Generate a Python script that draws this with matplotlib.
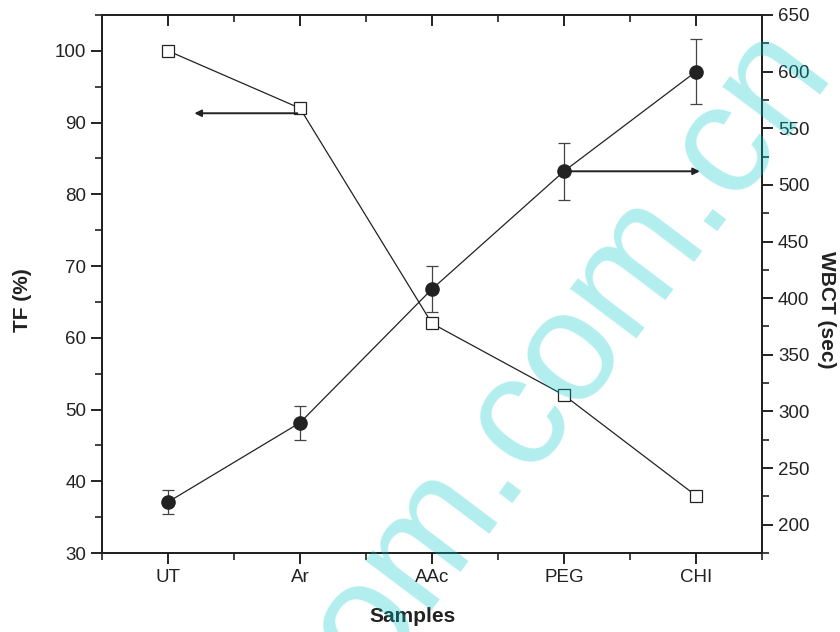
import numpy as np
import matplotlib
matplotlib.use("Agg")
import matplotlib.pyplot as plt
from matplotlib.ticker import MultipleLocator

plt.rcParams['font.family'] = ['Liberation Sans', 'DejaVu Sans']

samples = ['UT', 'Ar', 'AAc', 'PEG', 'CHI']
tf = [100, 92, 62, 52, 38]                # TF (%)
wbct = [220, 290, 408, 512, 600]          # WBCT (sec)
wbct_err = [11, 15, 20, 25, 29]

ink = '#222222'
x = np.arange(len(samples))

fig = plt.figure(figsize=(8.4, 6.32), dpi=100)
ax = fig.add_axes([0.1214, 0.125, 0.7857, 0.8513])
ax2 = ax.twinx()

# TF: open squares on the left axis
ax.plot(x, tf, color=ink, lw=0.9, marker='s', ms=8, mfc='white',
        mec=ink, mew=0.9, zorder=3)

# WBCT: filled circles with error bars on the right axis
ax2.errorbar(x, wbct, yerr=wbct_err, fmt='none', ecolor='#444444',
             elinewidth=0.9, capsize=4.5, capthick=0.9, zorder=2)
ax2.plot(x, wbct, color=ink, lw=0.9, marker='o', ms=9.5, mfc=ink,
         mec=ink, zorder=3)

# arrows pointing to each series' axis
ax.annotate('', xy=(0.2, 91.3), xytext=(0.98, 91.3),
            arrowprops=dict(arrowstyle='-|>', color=ink, lw=1.4,
                            mutation_scale=10, shrinkA=0, shrinkB=0))
ax2.annotate('', xy=(4.03, 512), xytext=(3.04, 512),
             arrowprops=dict(arrowstyle='-|>', color=ink, lw=1.4,
                             mutation_scale=10, shrinkA=0, shrinkB=0))

ax.set_xlim(-0.5, 4.5)
ax.set_ylim(30, 105)
ax2.set_ylim(175, 650)

ax.set_xticks(x)
ax.set_xticklabels(samples)
ax.xaxis.set_minor_locator(MultipleLocator(0.5))
ax.yaxis.set_major_locator(MultipleLocator(10))
ax.yaxis.set_minor_locator(MultipleLocator(5))
ax2.yaxis.set_major_locator(MultipleLocator(50))
ax2.yaxis.set_minor_locator(MultipleLocator(25))

for a in (ax, ax2):
    for s in a.spines.values():
        s.set_linewidth(1.4)
        s.set_color(ink)
    a.tick_params(which='major', length=8, width=1.4, color=ink,
                  labelsize=13.5, labelcolor=ink, direction='out')
    a.tick_params(which='minor', length=5, width=1.2, color=ink,
                  direction='out')

# inward ticks along the top edge
top = ax.secondary_xaxis('top')
top.set_xticks(x)
top.set_xticklabels([])
top.xaxis.set_minor_locator(MultipleLocator(0.5))
top.tick_params(which='major', direction='in', length=8, width=1.4, color=ink)
top.tick_params(which='minor', direction='in', length=5, width=1.2, color=ink)
top.spines['top'].set_linewidth(1.4)
top.spines['top'].set_color(ink)

ax.set_zorder(ax2.get_zorder() + 1)
ax.patch.set_visible(False)

fig.text(0.027, 0.525, 'TF (%)', rotation=90, ha='center', va='center',
         fontsize=15, fontweight='bold', color=ink)
fig.text(0.984, 0.51, 'WBCT (sec)', rotation=-90, ha='center', va='center',
         fontsize=15, fontweight='bold', color=ink)
fig.text(0.491, 0.024, 'Samples', ha='center', va='center',
         fontsize=15, fontweight='bold', color=ink)

# site watermark
fig.text(0.716, 0.405, 'om.com.cn', rotation=53, rotation_mode='anchor',
         ha='center', va='baseline', fontsize=113, color='#00c8cc',
         alpha=0.3, zorder=10)

fig.savefig('out.png', dpi=100)
